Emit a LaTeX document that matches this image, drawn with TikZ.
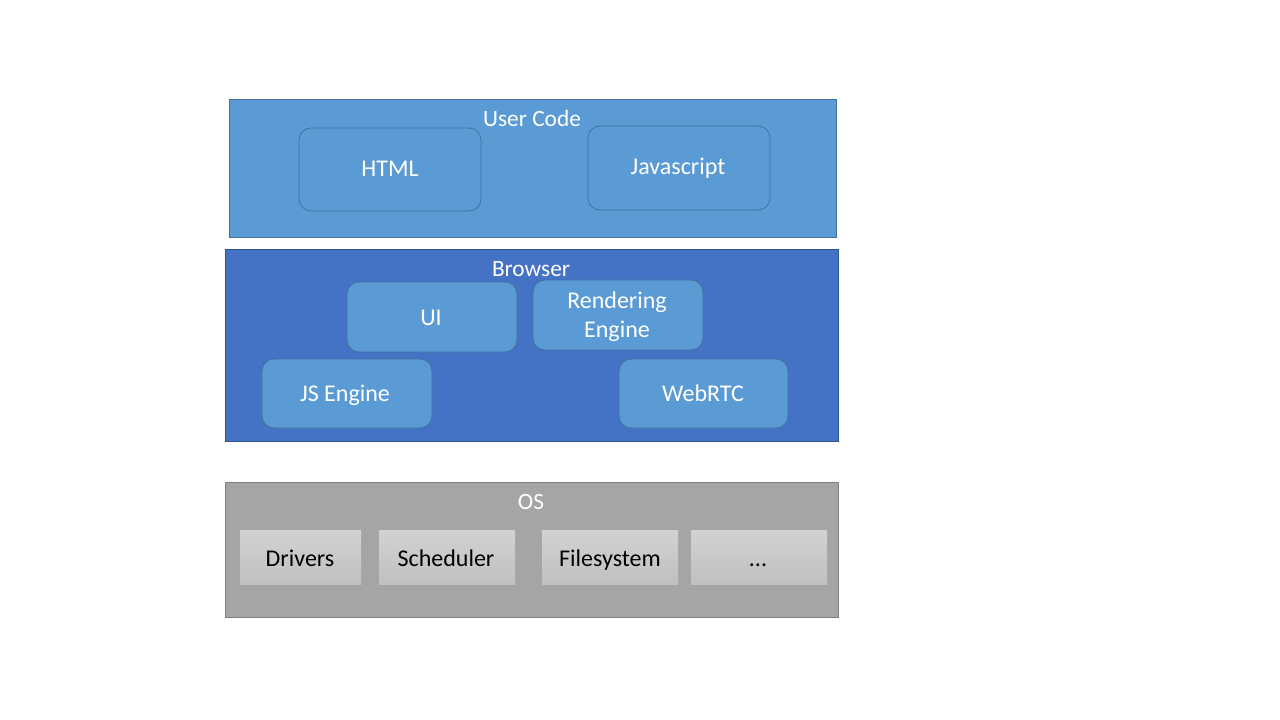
\documentclass[tikz,border=0pt]{standalone}
\usepackage{fontspec}
\setmainfont{Carlito}
\begin{document}
\begin{tikzpicture}[x=0.75pt,y=-0.75pt,
  layer/.style={draw=#1, line width=0.75pt},
  lbl/.style={text=white, font=\fontsize{17.5}{21.75}\selectfont, inner sep=0pt, anchor=base},
  comp/.style={draw=#1, fill=compblue, rounded corners=9pt, line width=0.6pt},
  osbox/.style={top color=osTop, bottom color=osBot, draw=none},
  complbl/.style={text=white, font=\fontsize{18}{21.75}\selectfont, align=center, inner sep=0pt, anchor=base},
  oslbl/.style={text=black, font=\fontsize{18}{21.75}\selectfont, inner sep=0pt, anchor=base}]
\definecolor{compblue}{HTML}{5B9BD5}
\definecolor{ucborder}{HTML}{41719C}
\definecolor{brfill}{HTML}{4472C4}
\definecolor{brborder}{HTML}{2F528F}
\definecolor{osfill}{HTML}{A5A5A5}
\definecolor{osborder}{HTML}{7F7F7F}
\definecolor{osTop}{HTML}{D2D2D2}
\definecolor{osBot}{HTML}{C0C0C0}
\useasboundingbox (0,0) rectangle (1280,720);
\fill[white] (0,0) rectangle (1280,720);
% User Code
\draw[layer=ucborder, fill=compblue] (229,100) rectangle (836,238);
\node[lbl] (uc) at (532,127) {User Code};
\draw[comp=ucborder] (299,128) rectangle (481,211);
\node[complbl] (html) at (390,177) {HTML};
\draw[comp=ucborder] (588,126) rectangle (770,210);
\node[complbl] (js) at (678,175) {Javascript};
% Browser
\draw[layer=brborder, fill=brfill] (225,249) rectangle (838,441);
\node[lbl] (br) at (531,276) {Browser};
\draw[comp=ucborder] (347,282) rectangle (517,352);
\node[complbl] (ui) at (431,325) {UI};
\draw[comp=ucborder] (533,280) rectangle (703,350);
\node[complbl] (re) at (617,337) {Rendering\\Engine};
\draw[comp=ucborder] (262,359) rectangle (432,428);
\node[complbl] (jse) at (345,401) {JS Engine};
\draw[comp=ucborder] (619,359) rectangle (788,428);
\node[complbl] (rtc) at (703,401) {WebRTC};
% OS
\draw[layer=osborder, fill=osfill] (225,482) rectangle (838,617);
\node[lbl] (os) at (531,509) {OS};
\shade[osbox] (240,530) rectangle (361,584);
\node[oslbl] (drv) at (300,566) {Drivers};
\shade[osbox] (379,530) rectangle (515,584);
\node[oslbl] (sch) at (446,566) {Scheduler};
\shade[osbox] (542,530) rectangle (678,584);
\node[oslbl] (fs) at (610,566) {Filesystem};
\shade[osbox] (691,530) rectangle (827,584);
\node[oslbl] (dots) at (758,566) {.\kern0pt.\kern0pt.};
\end{tikzpicture}
\end{document}
